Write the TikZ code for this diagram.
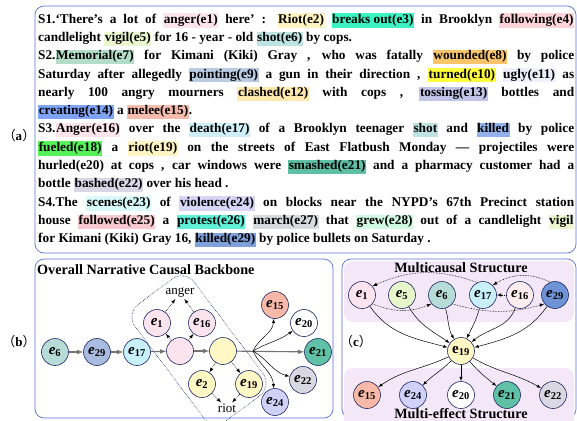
\documentclass[tikz,border=0pt]{standalone}
\usepackage{fontspec}
\setmainfont{Liberation Serif}
\newfontfamily\cjk{Noto Sans CJK SC}
\usepackage{xcolor}
\tikzset{>=latex}
\usetikzlibrary{quotes}

\definecolor{frameblue}{HTML}{5B6FD6}
\definecolor{nodeline}{HTML}{1F2A66}
\definecolor{regionbg}{HTML}{F4E7F8}
% highlight colours
\definecolor{hAnger}{HTML}{FCE4EC}
\definecolor{hRiot}{HTML}{FFF4C2}
\definecolor{hBreak}{HTML}{3DF2C3}
\definecolor{hFollow}{HTML}{FFD3DA}
\definecolor{hVigil}{HTML}{ECF7CF}
\definecolor{hShot}{HTML}{BDE3E3}
\definecolor{hMemo}{HTML}{B4DDC9}
\definecolor{hWound}{HTML}{F9C46A}
\definecolor{hPoint}{HTML}{BACBE2}
\definecolor{hTurn}{HTML}{FFFF3C}
\definecolor{hUgly}{HTML}{EFEFFD}
\definecolor{hClash}{HTML}{FFE9AE}
\definecolor{hToss}{HTML}{C3C5E8}
\definecolor{hCreate}{HTML}{7FA3F7}
\definecolor{hMelee}{HTML}{F6BDAE}
\definecolor{hDeath}{HTML}{CFEFF8}
\definecolor{hKilled}{HTML}{92B1EA}
\definecolor{hFuel}{HTML}{55F25A}
\definecolor{hSmash}{HTML}{5FBFA2}
\definecolor{hBash}{HTML}{D9D7E6}
\definecolor{hScene}{HTML}{D9F9FA}
\definecolor{hViol}{HTML}{D8D6F8}
\definecolor{hFollowed}{HTML}{F8C9CF}
\definecolor{hProt}{HTML}{5FF2D9}
\definecolor{hMarch}{HTML}{D7DBDF}
\definecolor{hGrew}{HTML}{D2F9E1}
\definecolor{hKillB}{HTML}{7FA0D8}
% node fills
\definecolor{nPink}{HTML}{FCE4EE}
\definecolor{nGreen}{HTML}{E7F5CB}
\definecolor{nTeal}{HTML}{B7DCD7}
\definecolor{nCyan}{HTML}{C9F0F9}
\definecolor{nPinkL}{HTML}{FDEDF0}
\definecolor{nBlue}{HTML}{6E94D7}
\definecolor{nSteel}{HTML}{A9BCE0}
\definecolor{nYellow}{HTML}{FFF7C4}
\definecolor{nSalmon}{HTML}{F7B8A7}
\definecolor{nLav}{HTML}{CFD1F8}
\definecolor{nTealD}{HTML}{5FC2A6}
\definecolor{nGrey}{HTML}{D8D7E2}

\newcommand\hl[2]{{\setlength\fboxsep{0.6pt}\colorbox{#1}{\rule[-3.8pt]{0pt}{13pt}#2}}}
\newcommand\ev[1]{\textit{e}\textsubscript{#1}}
\newcommand\evup[1]{e\textsubscript{#1}}
\newcommand\plabel[1]{{\cjk （}\textbf{#1}{\cjk ）}}

\tikzset{
  panel/.style={draw=frameblue, line width=0.7pt, rounded corners=9pt},
  region/.style={fill=regionbg, rounded corners=9pt},
  ev/.style={circle, draw=nodeline, line width=0.6pt, minimum size=27pt, inner sep=0pt,
    font=\fontsize{15}{15}\selectfont\bfseries},
  headline/.style={font=\fontsize{14.2}{14.2}\selectfont\bfseries},
  mainarr/.style={->, draw=black!55, line width=1.1pt},
  causal/.style={->, line width=0.5pt},
  hint/.style={->, densely dotted, line width=0.6pt},
}

\begin{document}
\begin{tikzpicture}[x=1pt,y=1pt]
\useasboundingbox (0,0) rectangle (577,-420);

% (a) sentences
\draw[panel] (35,-6) rectangle (576,-253);
\node at(19,-136)[font=\fontsize{13}{13}\selectfont]{\plabel{a}};
\node (sents) at(38,-13)[anchor=north west, inner sep=0pt, text width=536pt, align=justify,
  font=\fontsize{13.3}{18.3}\selectfont\bfseries]{%
S1.‘There’s a lot of \hl{hAnger}{anger(e1)} here' : \hl{hRiot}{Riot(e2)} \hl{hBreak}{breaks out(e3)} in Brooklyn \hl{hFollow}{following(e4)}\linebreak
candlelight \hl{hVigil}{vigil(e5)} for 16 - year - old \hl{hShot}{shot(e6)} by cops.\par
S2.\hl{hMemo}{Memorial(e7)} for Kimani (Kiki) Gray , who was fatally \hl{hWound}{wounded(e8)} by police\linebreak
Saturday after allegedly \hl{hPoint}{pointing(e9)} a gun in their direction , \hl{hTurn}{turned(e10)} \hl{hUgly}{ugly(e11)} as\linebreak
nearly 100 angry mourners \hl{hClash}{clashed(e12)} with cops , \hl{hToss}{tossing(e13)} bottles and\linebreak
\hl{hCreate}{creating(e14)} a \hl{hMelee}{melee(e15)}.\par
S3.\hl{hAnger}{Anger(e16)} over the \hl{hDeath}{death(e17)} of a Brooklyn teenager \hl{hShot}{shot} and \hl{hKilled}{killed} by police\linebreak
\hl{hFuel}{fueled(e18)} a \hl{hRiot}{riot(e19)} on the streets of East Flatbush Monday — projectiles were\linebreak
hurled(e20) at cops , car windows were \hl{hSmash}{smashed(e21)} and a pharmacy customer had a\linebreak
bottle \hl{hBash}{bashed(e22)} over his head .\par
S4.The \hl{hScene}{scenes(e23)} of \hl{hViol}{violence(e24)} on blocks near the NYPD’s 67th Precinct station\linebreak
house \hl{hFollowed}{followed(e25)} a \hl{hProt}{protest(e26)} \hl{hMarch}{march(e27)} that \hl{hGrew}{grew(e28)} out of a candlelight \hl{hVigil}{vigil}\linebreak
for Kimani (Kiki) Gray 16, \hl{hKillB}{killed(e29)} by police bullets on Saturday .\par};

% (b) backbone
\draw[panel] (35,-259) rectangle (333,-418);
\node at(19,-342)[font=\fontsize{13}{13}\selectfont]{\plabel{b}};
\node (btitle) at(37,-270)[anchor=west, inner sep=0pt, headline]{Overall Narrative Causal Backbone};
\node (b6) at(55,-352)[ev, fill=nTeal]{\ev{6}};
\node (b29) at(97,-352)[ev, fill=nSteel]{\ev{29}};
\node (b17) at(137,-352)[ev, fill=nCyan]{\ev{17}};
\node (pk) at(180,-351)[ev, fill=nPink]{};
\node (yl) at(223,-351)[ev, fill=nYellow]{};
\node (b1) at(157,-323)[ev, fill=nPink]{\ev{1}};
\node (b16) at(202,-323)[ev, fill=nPink]{\ev{16}};
\node (b2) at(202,-384)[ev, fill=nYellow]{\ev{2}};
\node (b19) at(249,-384)[ev, fill=nYellow]{\ev{19}};
\node (anger) at(180,-293)[inner sep=1pt, font=\fontsize{13}{13}\selectfont]{anger};
\node (riot) at(227,-408)[inner sep=1pt, font=\fontsize{13}{13}\selectfont]{riot};
\node (b15) at(275,-305)[ev, fill=nSalmon]{\ev{15}};
\node (b20) at(304,-323)[ev, fill=white]{\ev{20}};
\node (b21) at(318,-352)[ev, fill=nTealD]{\ev{21}};
\node (b22) at(303,-380)[ev, fill=nGrey]{\ev{22}};
\node (b24) at(275,-402)[ev, fill=nLav]{\ev{24}};
\coordinate (fan) at(253,-351);
\node (group) at(199,-350)[draw=nodeline, densely dotted, line width=0.6pt, rounded corners=16pt,
  rotate=-53, minimum width=146pt, minimum height=74pt]{};
\draw[mainarr] (b6) -- (b29);
\draw[mainarr] (b29) -- (b17);
\draw[mainarr] (b17) -- (pk);
\draw[mainarr] (pk) -- (yl);
\draw[mainarr] (yl) -- (b21);
\draw[causal] (fan) to[out=65,in=-95] (b15);
\draw[causal] (fan) to[out=30,in=-145] (b20);
\draw[causal] (fan) to[out=-30,in=165] (b22);
\draw[causal] (fan) to[out=-65,in=95] (b24);
\draw[hint] (pk) -- (b1);
\draw[hint] (pk) -- (b16);
\draw[hint] (b1) -- (anger);
\draw[hint] (b16) -- (anger);
\draw[hint] (yl) -- (b2);
\draw[hint] (yl) -- (b19);
\draw[hint] (b2) -- (riot);
\draw[hint] (b19) -- (riot);

% (c) multicausal / multi-effect
\draw[panel] (342,-259) rectangle (576,-418);
\fill[region] (344,-261) rectangle (574,-322);
\fill[region] (344,-368) rectangle (574,-430);
\node (ctitle) at(461,-268)[headline]{Multicausal Structure};
\node (etitle) at(461,-413.5)[headline]{Multi-effect Structure};
\node at(356,-342)[font=\fontsize{13}{13}\selectfont]{\plabel{c}};
\node (c1) at(362,-295)[ev, fill=nPink]{\ev{1}};
\node (c5) at(402,-295)[ev, fill=nGreen]{\ev{5}};
\node (c6) at(442,-295)[ev, fill=nTeal]{\ev{6}};
\node (c17) at(483,-295)[ev, fill=nCyan]{\ev{17}};
\node (c16) at(520,-295)[ev, fill=nPinkL]{\ev{16}};
\node (c29) at(555,-295)[ev, fill=nBlue]{\ev{29}};
\node (c19) at(461,-351)[ev, fill=nYellow]{\evup{19}};
\node (c15) at(367,-395)[ev, fill=nSalmon]{\ev{15}};
\node (c24) at(413,-395)[ev, fill=nLav]{\ev{24}};
\node (c20) at(461,-395)[ev, fill=white]{\ev{20}};
\node (c21) at(507,-395)[ev, fill=nTealD]{\ev{21}};
\node (c22) at(553,-395)[ev, fill=nGrey]{\ev{22}};
\draw[causal] (c1) to[out=-55,in=165] (c19);
\draw[causal] (c5) to[out=-60,in=145] (c19);
\draw[causal] (c6) to[out=-75,in=120] (c19);
\draw[causal] (c17) to[out=-105,in=65] (c19);
\draw[causal] (c16) to[out=-110,in=40] (c19);
\draw[causal] (c29) to[out=-125,in=15] (c19);
\draw[causal] (c19) to[out=-155,in=35] (c15);
\draw[causal] (c19) to[out=-135,in=45] (c24);
\draw[causal] (c19) -- (c20);
\draw[causal] (c19) to[out=-50,in=140] (c21);
\draw[causal] (c19) to[out=-30,in=150] (c22);
\draw[hint] (c17.115) to[bend right=22] (c1.40);
\draw[hint] (c29.110) to[bend right=28] (c17.45);
\draw[hint] (c1.-40) to[bend right=22] (c6.-140);
\draw[hint] (c6.-40) to[bend right=16] (c29.-140);
\draw[hint] (c16) -- (c17);
\end{tikzpicture}
\end{document}
